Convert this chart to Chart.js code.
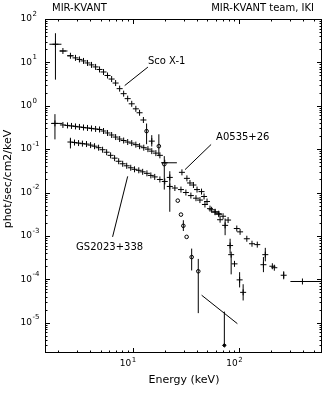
<!DOCTYPE html>
<html>
<head>
<meta charset="utf-8">
<title>MIR-KVANT spectra</title>
<script src="https://cdn.jsdelivr.net/npm/chart.js@4.4.0/dist/chart.umd.min.js"></script>
<style>
    html, body { margin: 0; padding: 0; background: #fff; }
    canvas { display: block; }
</style>
</head>
<body>
<canvas id="spectraChart" width="328" height="396"></canvas>
<script>
/* =========================================
   MIR-KVANT SPECTRA - DATA
   ========================================= */

// ===== SCO X-1 =====
const scoEnergy = [1.88, 2.21, 2.60, 2.90, 3.16, 3.45, 3.76, 4.10, 4.48, 4.88, 5.32, 5.80, 6.34, 6.91, 7.54, 8.22, 8.97, 9.79, 10.7, 11.6,
    12.6, 13.5, 15.1, 17.6, 19.8, 22.3, 26.5, 28.4, 29.9, 32.1, 35.8, 41.3, 72.6];
const scoFlux = [26.2, 18.3, 14.2, 12.7, 11.7, 10.8, 9.7, 8.75, 7.86, 6.87, 6.01, 4.99, 4.13, 3.34, 2.48, 1.90, 1.46, 1.11, 0.85, 0.69,
    0.47, 0.26, 0.153, 0.117, 0.045, 0.0223, 0.0065, 0.0031, 0.00171, 0.00095, 0.000325, 0.000153, 0.000003];
const scoMarker = ['c', 'c', 'c', 'c', 'c', 'c', 'c', 'c', 'c', 'c', 'c', 'c', 'c', 'c', 'c', 'c', 'c', 'c', 'c', 'c',
    'c', 'o', 'c', 'o', 'o', 'c', 'o', 'o', 'o', 'o', 'o', 'o', 'd'];
// [index, low, high]
const scoBarsY = [[0, 4.0, 47], [21, 0.13, 0.39], [22, 0.115, 0.21], [23, 0.069, 0.22], [24, 0.0117, 0.069], [25, 0.0036, 0.031],
    [28, 0.0013, 0.0023], [30, 0.00016, 0.00051], [31, 0.0000166, 0.000295], [32, 0.000003, 0.000018]];
const scoBarsX = [[0, 1.65, 2.14], [1, 2.05, 2.44], [2, 2.42, 2.78]];

// ===== A0535+26 =====
const a0535Energy = [1.86, 2.21, 2.44, 2.66, 2.90, 3.16, 3.45, 3.76, 4.10, 4.48, 4.88, 5.32, 5.80, 6.34, 6.91, 7.54, 8.22, 8.97, 9.79, 10.7,
    11.6, 12.7, 13.9, 15.1, 16.5, 18.0, 20.0, 29.0, 32.3, 34.5, 37.2, 40.2, 44.3, 46.8, 49.9, 55.1, 59.4, 64.1, 66.2, 73.8,
    82.2, 84.1, 90.4, 101, 109];
const a0535Flux = [0.392, 0.361, 0.352, 0.343, 0.334, 0.325, 0.316, 0.308, 0.300, 0.292, 0.284, 0.262, 0.236, 0.212, 0.190, 0.171, 0.158, 0.146, 0.138, 0.127,
    0.117, 0.108, 0.100, 0.090, 0.081, 0.072, 0.0485, 0.0292, 0.0212, 0.0166, 0.0149, 0.0117, 0.0105, 0.0081, 0.0062, 0.0040, 0.0036, 0.00325, 0.00236, 0.00175,
    0.00060, 0.00037, 0.000227, 0.000097, 0.000050];
const a0535BarsY = [[0, 0.168, 0.641], [39, 0.00104, 0.00252], [40, 0.00039, 0.00086], [41, 0.00013, 0.00037],
    [43, 0.000065, 0.000146], [44, 0.0000325, 0.000077]];
const a0535BarsX = [[0, 1.71, 2.19], [26, 18.5, 26.0]];

// ===== GS2023+338 =====
const gsEnergy = [2.60, 2.84, 3.10, 3.37, 3.68, 4.02, 4.38, 4.78, 5.21, 5.69, 6.20, 6.76, 7.38, 8.05, 8.78, 9.58, 10.4, 11.4, 12.4, 13.6,
    14.8, 16.1, 18.0, 20.0, 22.3, 24.9, 28.4, 31.6, 35.2, 39.3, 42.8, 47.7, 53.2, 59.4, 64.7, 70.6, 78.7, 95.0, 102, 118,
    132, 148, 176, 169, 205, 214, 262, 393];
const gsFlux = [0.146, 0.142, 0.138, 0.134, 0.131, 0.124, 0.117, 0.108, 0.097, 0.085, 0.072, 0.062, 0.0526, 0.0460, 0.0413, 0.0372, 0.0343, 0.0325, 0.0300, 0.0277,
    0.0248, 0.0229, 0.0200, 0.0180, 0.0138, 0.0127, 0.0117, 0.0100, 0.0085, 0.0074, 0.0067, 0.0053, 0.00425, 0.00352, 0.00316, 0.00284, 0.00232, 0.00148, 0.00124, 0.00086,
    0.00066, 0.00063, 0.00037, 0.000217, 0.000200, 0.000185, 0.000124, 0.000089];
const gsBarsY = [[0, 0.104, 0.183], [42, 0.00026, 0.00053], [43, 0.000146, 0.000325], [46, 0.0001, 0.000153]];
const gsBarsX = [[47, 303, 581]];

// ===== POWER-LAW SEGMENT =====
const slopeEnergy = [44.4, 96.2];
const slopeFlux = [0.000043, 0.0000095];

// ===== AXES =====
const energyRange = [1.5, 600];
const fluxRange = [2e-6, 100];
const energyTickLabels = [10, 100];
const fluxTickLabels = [100, 10, 1, 0.1, 0.01, 0.001, 0.0001, 0.00001];

// ===== LABELS (text, anchor energy/flux, pointer from -> to) =====
const labelNames = ['Sco X-1', 'A0535+26', 'GS2023+338'];
const labelAt = [[13.9, 10.5], [60.7, 0.19], [6.07, 0.000535]];
const pointerFrom = [[13.9, 7.8], [54.5, 0.128], [8.97, 0.0236]];
const pointerTo = [[8.41, 2.92], [31.0, 0.0337], [6.47, 0.00095]];

/* =========================================
   CHART
   ========================================= */

const buildPoints = (energy, flux, barsY, barsX) => {
    const pts = energy.map((e, i) => ({ x: e, y: flux[i] }));
    barsY.forEach(([i, lo, hi]) => { pts[i].yl = lo; pts[i].yh = hi; });
    barsX.forEach(([i, lo, hi]) => { pts[i].xl = lo; pts[i].xh = hi; });
    return pts;
};

const markerStyle = { c: 'cross', o: 'circle', d: 'rectRot' };
const markerRadius = { c: 3, o: 1.8, d: 1.8 };

// ===== ERROR BARS =====
const errorBarPlugin = {
    id: 'errorBars',
    afterDatasetsDraw(chart) {
        const { ctx, chartArea, scales: { x, y } } = chart;
        ctx.save();
        ctx.beginPath();
        ctx.rect(chartArea.left, chartArea.top, chartArea.right - chartArea.left, chartArea.bottom - chartArea.top);
        ctx.clip();
        ctx.strokeStyle = '#000';
        ctx.lineWidth = 1;
        chart.data.datasets.forEach(ds => {
            ds.data.forEach(p => {
                const px = x.getPixelForValue(p.x);
                const py = y.getPixelForValue(p.y);
                ctx.beginPath();
                if (p.yl !== undefined) {
                    ctx.moveTo(px, y.getPixelForValue(p.yl));
                    ctx.lineTo(px, y.getPixelForValue(p.yh));
                }
                if (p.xl !== undefined) {
                    ctx.moveTo(x.getPixelForValue(p.xl), py);
                    ctx.lineTo(x.getPixelForValue(p.xh), py);
                }
                ctx.stroke();
            });
        });
        ctx.restore();
    }
};

// ===== FRAME, TICKS, TEXT =====
const framePlugin = {
    id: 'frame',
    afterDraw(chart) {
        const { ctx, chartArea: a, scales: { x, y } } = chart;
        ctx.save();
        ctx.strokeStyle = '#000';
        ctx.lineWidth = 1;
        ctx.strokeRect(a.left + 0.5, a.top + 0.5, a.right - a.left - 1, a.bottom - a.top - 1);

        const eachLogTick = (scale, cb) => {
            const lo = Math.floor(Math.log10(scale.min));
            const hi = Math.ceil(Math.log10(scale.max));
            for (let d = lo; d <= hi; d++) {
                for (let k = 1; k < 10; k++) {
                    const v = k * Math.pow(10, d);
                    if (v < scale.min * 1.0001 || v > scale.max * 0.9999) continue;
                    cb(Math.round(scale.getPixelForValue(v)) + 0.5, k === 1);
                }
            }
        };

        ctx.beginPath();
        eachLogTick(x, (px, major) => {
            const len = major ? 5 : 2.5;
            ctx.moveTo(px, a.bottom); ctx.lineTo(px, a.bottom - len);
            ctx.moveTo(px, a.top); ctx.lineTo(px, a.top + len);
        });
        eachLogTick(y, (py, major) => {
            const len = major ? 5 : 2.5;
            ctx.moveTo(a.left, py); ctx.lineTo(a.left + len, py);
            ctx.moveTo(a.right, py); ctx.lineTo(a.right - len, py);
        });
        ctx.stroke();

        // tick labels as 10 with a raised exponent
        ctx.fillStyle = '#000';
        ctx.textBaseline = 'middle';
        fluxTickLabels.forEach(v => {
            const py = y.getPixelForValue(v);
            ctx.font = '9px "DejaVu Sans"';
            ctx.textAlign = 'right';
            ctx.fillText('10', 32, py);
            ctx.font = '7px "DejaVu Sans"';
            ctx.textAlign = 'left';
            ctx.fillText(String(Math.round(Math.log10(v))), 32.5, py - 5);
        });
        energyTickLabels.forEach(v => {
            const px = x.getPixelForValue(v);
            ctx.font = '9px "DejaVu Sans"';
            ctx.textAlign = 'right';
            ctx.fillText('10', px - 1.5, a.bottom + 11);
            ctx.font = '7px "DejaVu Sans"';
            ctx.textAlign = 'left';
            ctx.fillText(String(Math.round(Math.log10(v))), px - 1, a.bottom + 7);
        });

        // headers and axis titles
        ctx.font = '10px "DejaVu Sans"';
        ctx.textAlign = 'left';
        ctx.fillText('MIR-KVANT', 52, 8);
        ctx.textAlign = 'right';
        ctx.fillText('MIR-KVANT team, IKI', 314, 8);
        ctx.font = '11px "DejaVu Sans"';
        ctx.textAlign = 'center';
        ctx.fillText('Energy (keV)', (a.left + a.right) / 2 + 0.5, 380);
        ctx.save();
        ctx.translate(8, 179);
        ctx.rotate(-Math.PI / 2);
        ctx.fillText('phot/sec/cm2/keV', 0, 0);
        ctx.restore();

        // source labels with pointer lines
        ctx.font = '10px "DejaVu Sans"';
        ctx.beginPath();
        labelNames.forEach((name, i) => {
            ctx.moveTo(x.getPixelForValue(pointerFrom[i][0]), y.getPixelForValue(pointerFrom[i][1]));
            ctx.lineTo(x.getPixelForValue(pointerTo[i][0]), y.getPixelForValue(pointerTo[i][1]));
            ctx.textAlign = i === 2 ? 'center' : 'left';
            ctx.fillText(name, x.getPixelForValue(labelAt[i][0]), y.getPixelForValue(labelAt[i][1]));
        });
        ctx.stroke();
        ctx.restore();
    }
};

document.addEventListener('DOMContentLoaded', function() {
    const ctx = document.getElementById('spectraChart');
    const baseSet = {
        type: 'scatter',
        borderColor: '#000',
        backgroundColor: '#fff',
        pointBorderWidth: 1,
        pointHoverRadius: 0
    };

    new Chart(ctx, {
        type: 'scatter',
        data: {
            datasets: [
                Object.assign({}, baseSet, {
                    label: 'Sco X-1',
                    data: buildPoints(scoEnergy, scoFlux, scoBarsY, scoBarsX),
                    pointStyle: scoMarker.map(m => markerStyle[m]),
                    pointRadius: scoMarker.map(m => markerRadius[m]),
                    pointBackgroundColor: scoMarker.map(m => m === 'd' ? '#000' : '#fff')
                }),
                Object.assign({}, baseSet, {
                    label: 'A0535+26',
                    data: buildPoints(a0535Energy, a0535Flux, a0535BarsY, a0535BarsX),
                    pointStyle: 'cross',
                    pointRadius: 3
                }),
                Object.assign({}, baseSet, {
                    label: 'GS2023+338',
                    data: buildPoints(gsEnergy, gsFlux, gsBarsY, gsBarsX),
                    pointStyle: 'cross',
                    pointRadius: 3
                }),
                {
                    type: 'line',
                    label: 'power law',
                    data: slopeEnergy.map((e, i) => ({ x: e, y: slopeFlux[i] })),
                    borderColor: '#000',
                    borderWidth: 1,
                    pointRadius: 0
                }
            ]
        },
        options: {
            responsive: false,
            animation: false,
            layout: { padding: { left: 45, top: 19, right: 6, bottom: 43 } },
            plugins: {
                legend: { display: false },
                tooltip: { enabled: false }
            },
            scales: {
                x: { type: 'logarithmic', min: energyRange[0], max: energyRange[1], display: false },
                y: { type: 'logarithmic', min: fluxRange[0], max: fluxRange[1], display: false }
            }
        },
        plugins: [errorBarPlugin, framePlugin]
    });
});
</script>
</body>
</html>
